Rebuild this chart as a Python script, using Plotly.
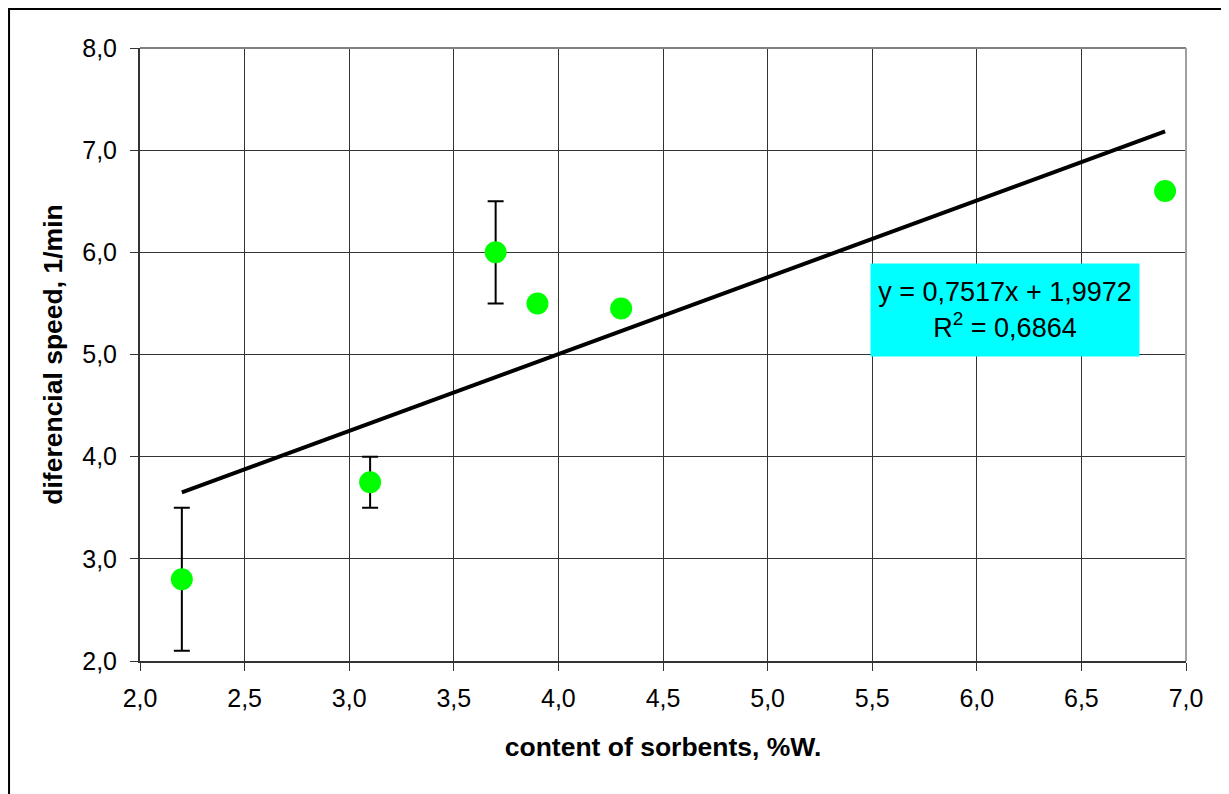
import plotly.graph_objects as go

# Data
sorbent_content = [2.2, 3.1, 3.7, 3.9, 4.3, 6.9]
diff_speed = [2.8, 3.75, 6.0, 5.5, 5.45, 6.6]
err_plus = [0.7, 0.25, 0.5, 0.0, 0.0, 0.0]
err_minus = [0.7, 0.25, 0.5, 0.0, 0.0, 0.0]
show_err = [True, True, True, False, False, False]
slope = 0.7517
intercept = 1.9972
r_squared = 0.6864

x_ticks = [2.0, 2.5, 3.0, 3.5, 4.0, 4.5, 5.0, 5.5, 6.0, 6.5, 7.0]
y_ticks = [2.0, 3.0, 4.0, 5.0, 6.0, 7.0, 8.0]

fig = go.Figure()

# error bars only for points that have them
ex = [x for x, s in zip(sorbent_content, show_err) if s]
ey = [y for y, s in zip(diff_speed, show_err) if s]
ep = [e for e, s in zip(err_plus, show_err) if s]
em = [e for e, s in zip(err_minus, show_err) if s]
fig.add_trace(go.Scatter(
    x=ex, y=ey, mode="markers",
    marker=dict(size=1, color="rgba(0,0,0,0)"),
    error_y=dict(type="data", symmetric=False, array=ep, arrayminus=em,
                 color="black", thickness=2, width=8),
    showlegend=False, hoverinfo="skip"))

# trend line
x0, x1 = min(sorbent_content), max(sorbent_content)
fig.add_trace(go.Scatter(
    x=[x0, x1], y=[slope * x0 + intercept, slope * x1 + intercept],
    mode="lines", line=dict(color="black", width=4), showlegend=False))

# points
fig.add_trace(go.Scatter(
    x=sorbent_content, y=diff_speed, mode="markers",
    marker=dict(size=22, color="#00FF00", line=dict(width=0)),
    showlegend=False))

fmt = lambda v: f"{v:.4f}".replace(".", ",")
fig.add_annotation(
    x=6.135, y=5.44, xref="x", yref="y",
    text=f"y = {fmt(slope)}x + {fmt(intercept)}<br>R<sup>2</sup> = {fmt(r_squared)}",
    showarrow=False, bgcolor="#00FFFF", font=dict(family="Arial", size=27, color="black"),
    width=266, height=90, align="center")

# outer frame (cropped)
fig.add_shape(type="rect", xref="paper", yref="paper",
              x0=-0.1252, y0=-0.3, x1=1.2, y1=1.0636,
              line=dict(color="black", width=2), layer="below")

fig.update_layout(
    width=1221, height=786,
    margin=dict(l=132, r=43, t=40, b=133),
    paper_bgcolor="white", plot_bgcolor="white",
    separators=", ",
    font=dict(family="Arial", size=25, color="black"),
    xaxis=dict(range=[2.0, 7.0], tickvals=x_ticks, tickformat=".1f",
               tickfont=dict(family="Arial", size=25),
               showgrid=True, gridcolor="#333333", gridwidth=1,
               showline=True, linecolor="#333333", linewidth=2, mirror=False,
               ticks="outside", ticklen=8, tickcolor="#333333",
               zeroline=False, ticklabelstandoff=6,
               title=dict(text="<b>content of sorbents, %W.</b>",
                          font=dict(family="Arial", size=26.5), standoff=26)),
    yaxis=dict(range=[2.0, 8.0], tickvals=y_ticks, tickformat=".1f",
               tickfont=dict(family="Arial", size=25),
               showgrid=True, gridcolor="#333333", gridwidth=1,
               showline=True, linecolor="#333333", linewidth=2,
               ticks="outside", ticklen=8, tickcolor="#333333",
               zeroline=False, ticklabelstandoff=8,
               title=dict(text="<b>diferencial speed, 1/min</b>",
                          font=dict(family="Arial", size=26.5), standoff=12)),
)

# gray frame top and right
fig.add_shape(type="line", xref="paper", yref="paper", x0=0, y0=1, x1=1, y1=1,
              line=dict(color="#808080", width=2))
fig.add_shape(type="line", xref="paper", yref="paper", x0=1, y0=0, x1=1, y1=1,
              line=dict(color="#A0A0A0", width=2))

fig.write_html("out.html")
